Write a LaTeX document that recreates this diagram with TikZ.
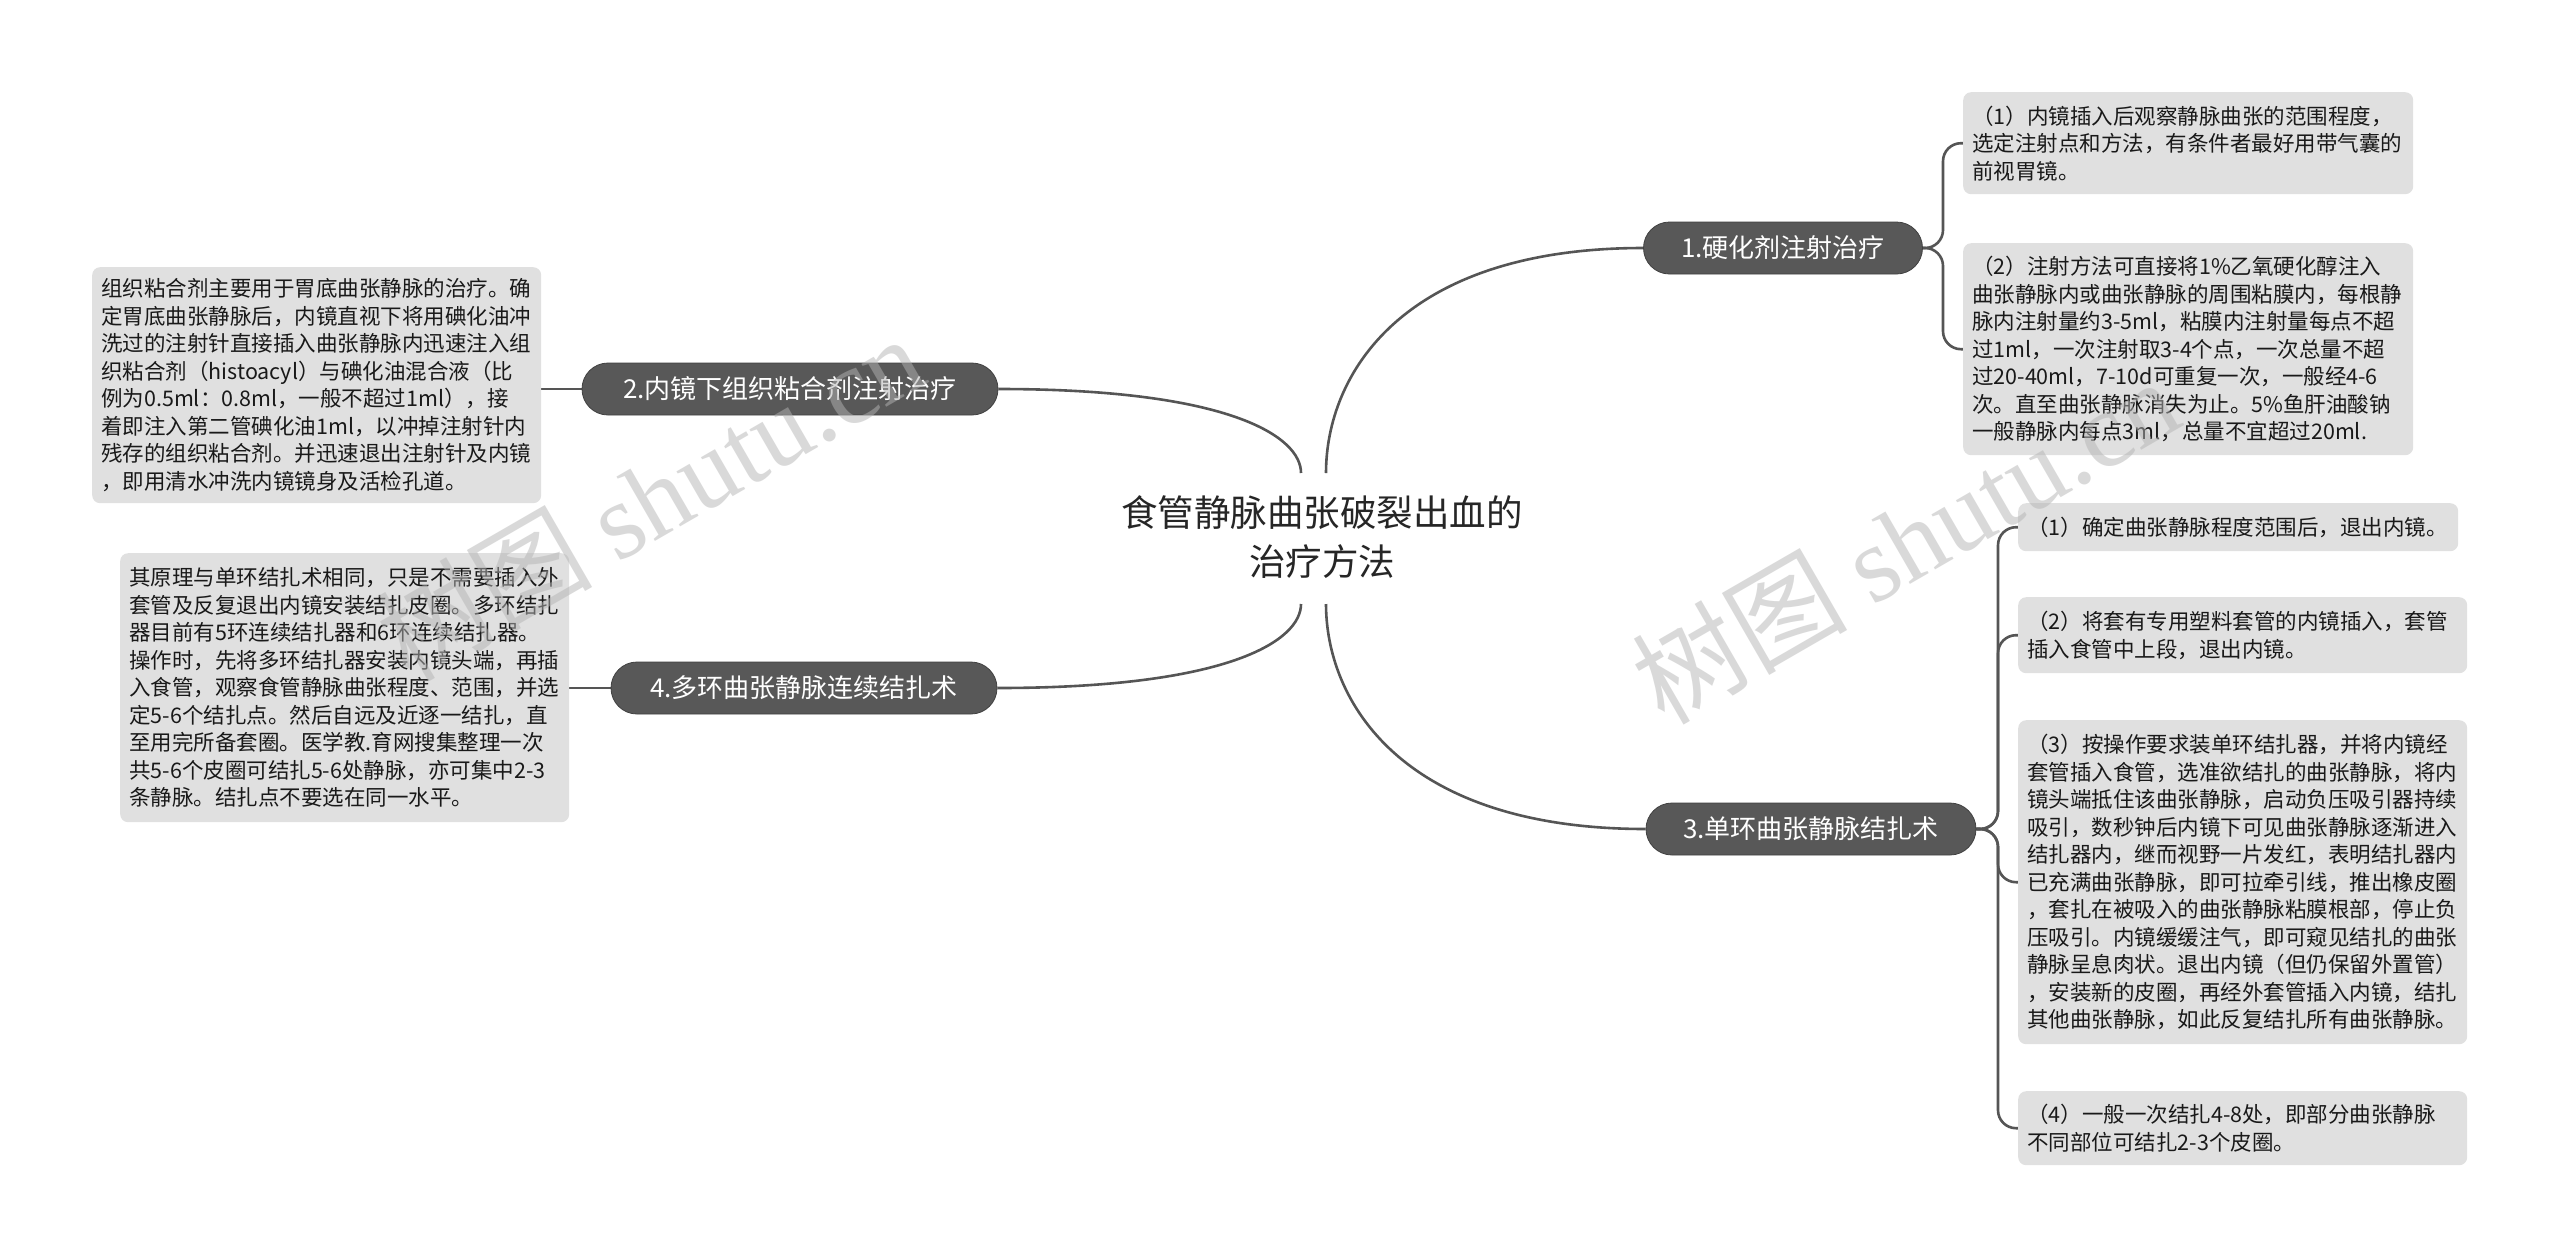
\documentclass[tikz,border=0pt]{standalone}
\usepackage{fontspec}
\setmainfont{Noto Sans CJK SC}
\newfontfamily\wmlatin{Liberation Serif}
\usetikzlibrary{backgrounds}
\definecolor{pillc}{RGB}{88,88,88}
\definecolor{leafc}{RGB}{224,224,224}
\definecolor{linec}{RGB}{85,85,85}
\definecolor{wmc}{RGB}{180,180,180}
\begin{document}
\begin{tikzpicture}[x=1pt,y=-1pt,
  conn/.style={draw=linec, line width=2.6pt},
  pill/.style={fill=pillc, draw=black!75, line width=0.8pt, rounded corners=26pt, minimum height=52pt, text=white, font=\fontsize{26}{30}\selectfont, inner xsep=0pt, inner ysep=0pt},
  leaf/.style={fill=leafc, rounded corners=8pt, align=left, inner xsep=9pt, inner ysep=0pt, anchor=north west, font=\fontsize{21.5}{27.5}\selectfont, text=black!90},
  wm/.style={text=wmc, opacity=0.5, rotate=30, font=\fontsize{108}{110}\selectfont}
]
\useasboundingbox (0,0) rectangle (2560,1259);

\node[font=\fontsize{36.5}{49}\selectfont, align=center, text=black!85] (C) at (1322,537) {食管静脉曲张破裂出血的\\治疗方法};

\node[pill, minimum width=279pt] (P1) at (1783,248) {1.硬化剂注射治疗};
\node[pill, minimum width=416pt] (P2) at (790,389) {2.内镜下组织粘合剂注射治疗};
\node[pill, minimum width=330pt] (P3) at (1811,829) {3.单环曲张静脉结扎术};
\node[pill, minimum width=386pt] (P4) at (804,688) {4.多环曲张静脉连续结扎术};

\node[leaf, text width=432pt, minimum height=102pt] (A1) at (1963,92) {（1）内镜插入后观察静脉曲张的范围程度，\\选定注射点和方法，有条件者最好用带气囊的\\前视胃镜。};
\node[leaf, text width=432pt, minimum height=212pt] (A2) at (1963,243) {（2）注射方法可直接将1\%乙氧硬化醇注入\\曲张静脉内或曲张静脉的周围粘膜内，每根静\\脉内注射量约3-5ml，粘膜内注射量每点不超\\过1ml，一次注射取3-4个点，一次总量不超\\过20-40ml，7-10d可重复一次，一般经4-6\\次。直至曲张静脉消失为止。5\%鱼肝油酸钠\\一般静脉内每点3ml，总量不宜超过20ml.};

\node[leaf, text width=431pt, minimum height=236pt] (B1) at (92,267) {组织粘合剂主要用于胃底曲张静脉的治疗。确\\定胃底曲张静脉后，内镜直视下将用碘化油冲\\洗过的注射针直接插入曲张静脉内迅速注入组\\织粘合剂（histoacyl）与碘化油混合液（比\\例为0.5ml：0.8ml，一般不超过1ml），接\\着即注入第二管碘化油1ml，以冲掉注射针内\\残存的组织粘合剂。并迅速退出注射针及内镜\\，即用清水冲洗内镜镜身及活检孔道。};

\node[leaf, text width=431pt, minimum height=269pt] (D1) at (120,553) {其原理与单环结扎术相同，只是不需要插入外\\套管及反复退出内镜安装结扎皮圈。多环结扎\\器目前有5环连续结扎器和6环连续结扎器。\\操作时，先将多环结扎器安装内镜头端，再插\\入食管，观察食管静脉曲张程度、范围，并选\\定5-6个结扎点。然后自远及近逐一结扎，直\\至用完所备套圈。医学教.育网搜集整理一次\\共5-6个皮圈可结扎5-6处静脉，亦可集中2-3\\条静脉。结扎点不要选在同一水平。};

\node[leaf, text width=422pt, minimum height=48pt] (E1) at (2018,503) {（1）确定曲张静脉程度范围后，退出内镜。};
\node[leaf, text width=431pt, minimum height=76pt] (E2) at (2018,597) {（2）将套有专用塑料套管的内镜插入，套管\\插入食管中上段，退出内镜。};
\node[leaf, text width=431pt, minimum height=324pt] (E3) at (2018,720) {（3）按操作要求装单环结扎器，并将内镜经\\套管插入食管，选准欲结扎的曲张静脉，将内\\镜头端抵住该曲张静脉，启动负压吸引器持续\\吸引，数秒钟后内镜下可见曲张静脉逐渐进入\\结扎器内，继而视野一片发红，表明结扎器内\\已充满曲张静脉，即可拉牵引线，推出橡皮圈\\，套扎在被吸入的曲张静脉粘膜根部，停止负\\压吸引。内镜缓缓注气，即可窥见结扎的曲张\\静脉呈息肉状。退出内镜（但仍保留外置管）\\，安装新的皮圈，再经外套管插入内镜，结扎\\其他曲张静脉，如此反复结扎所有曲张静脉。};
\node[leaf, text width=431pt, minimum height=74pt] (E4) at (2018,1091) {（4）一般一次结扎4-8处，即部分曲张静脉\\不同部位可结扎2-3个皮圈。};

\coordinate (s1) at (1326,473);
\coordinate (s2) at (1301,473);
\coordinate (s3) at (1326,604);
\coordinate (s4) at (1301,604);

\begin{scope}[on background layer]
\fill[white] (0,0) rectangle (2560,1259);
\draw[conn] (s1) .. controls (1326,376) and (1400,248) .. (P1.west);
\draw[conn] (s2) .. controls (1301,437) and (1231,389) .. (P2.east);
\draw[conn] (s3) .. controls (1326,700) and (1400,829) .. (P3.west);
\draw[conn] (s4) .. controls (1301,640) and (1231,688) .. (P4.east);
\draw[conn, rounded corners=18pt] (P1.east) -- (1943,248) |- (A1.west);
\draw[conn, rounded corners=18pt] (P1.east) -- (1943,248) |- (A2.west);
\draw[conn, rounded corners=18pt] (P3.east) -- (1998,829) |- (E1.west);
\draw[conn, rounded corners=18pt] (P3.east) -- (1998,829) |- (E2.west);
\draw[conn, rounded corners=18pt] (P3.east) -- (1998,829) |- (E3.west);
\draw[conn, rounded corners=18pt] (P3.east) -- (1998,829) |- (E4.west);
\draw[conn] (P2.west) -- (B1.east |- P2.west);
\draw[conn] (P4.west) -- (D1.east |- P4.west);
\end{scope}

\node[wm] (W1) at (650,497) {树图 {\wmlatin shutu.cn}};
\node[wm] (W2) at (1905,540) {树图 {\wmlatin shutu.cn}};
\end{tikzpicture}
\end{document}
